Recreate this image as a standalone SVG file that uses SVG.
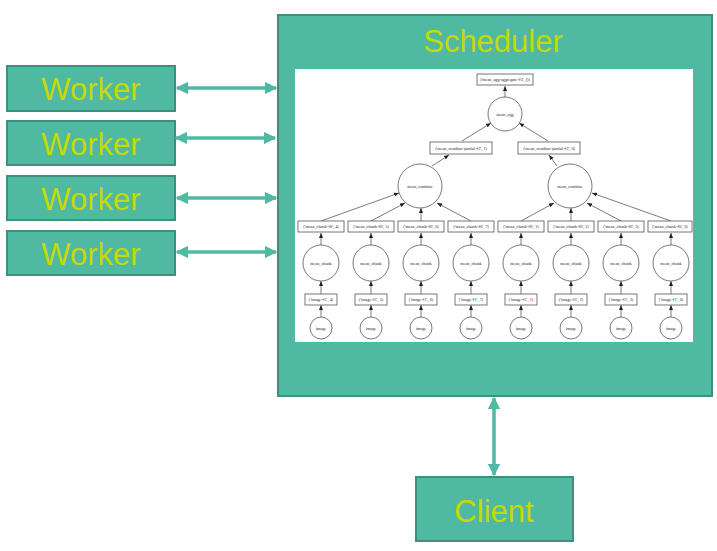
<svg xmlns="http://www.w3.org/2000/svg" width="717" height="551" viewBox="0 0 717 551">
<defs>
<style>
.box{fill:#50B9A2;stroke:#3F8F7D;stroke-width:2}
.big{font-family:"Liberation Sans",Arial,sans-serif;font-size:31px;fill:#C4DA00;text-anchor:middle}
.conn{stroke:#50B9A2;stroke-width:3.5;fill:none}
.g{fill:#fff;stroke:#555;stroke-width:0.8}
.gl{stroke:#444;stroke-width:0.7;fill:none}
.t{font-family:"Liberation Serif","Times New Roman",serif;font-size:4.2px;fill:#222;text-anchor:middle}
</style>
<marker id="ah" viewBox="0 0 10 10" refX="9" refY="5" markerWidth="3.6" markerHeight="3.6" orient="auto-start-reverse" markerUnits="strokeWidth">
<path d="M0,0 L10,5 L0,10 z" fill="#50B9A2"/>
</marker>
<marker id="sa" viewBox="0 0 10 10" refX="10" refY="5" markerWidth="5" markerHeight="5" orient="auto" markerUnits="userSpaceOnUse">
<path d="M0,1 L10,5 L0,9 z" fill="#222"/>
</marker>
</defs>

<g id="scheduler">
<rect class="box" x="278" y="15" width="434" height="381"/>
<text class="big" x="493" y="52">Scheduler</text>
<rect x="295" y="69" width="398" height="273" fill="#fff"/>
</g>

<g id="worker1"><rect class="box" x="7" y="66" width="168" height="45"/><text class="big" x="91" y="100">Worker</text></g>
<g id="worker2"><rect class="box" x="7" y="121" width="168" height="44"/><text class="big" x="91" y="155">Worker</text></g>
<g id="worker3"><rect class="box" x="7" y="176" width="168" height="44"/><text class="big" x="91" y="210">Worker</text></g>
<g id="worker4"><rect class="box" x="7" y="231" width="168" height="44"/><text class="big" x="91" y="265">Worker</text></g>
<g id="client"><rect class="box" x="416" y="477" width="157" height="64"/><text class="big" x="494" y="522">Client</text></g>

<g id="connectors">
<line class="conn" x1="177" y1="88" x2="276" y2="88" marker-start="url(#ah)" marker-end="url(#ah)"/>
<line class="conn" x1="176" y1="138" x2="275" y2="138" marker-start="url(#ah)" marker-end="url(#ah)"/>
<line class="conn" x1="177" y1="198" x2="276" y2="198" marker-start="url(#ah)" marker-end="url(#ah)"/>
<line class="conn" x1="177" y1="252" x2="276" y2="252" marker-start="url(#ah)" marker-end="url(#ah)"/>
<line class="conn" x1="494" y1="398" x2="494" y2="475" marker-start="url(#ah)" marker-end="url(#ah)"/>
</g>

<g id="graph-edges">
<line class="gl" x1="505" y1="97" x2="505" y2="86" marker-end="url(#sa)"/>
<line class="gl" x1="462" y1="141" x2="491" y2="123" marker-end="url(#sa)"/>
<line class="gl" x1="548" y1="141" x2="519" y2="123" marker-end="url(#sa)"/>
<line class="gl" x1="432" y1="166" x2="449" y2="155" marker-end="url(#sa)"/>
<line class="gl" x1="557" y1="166" x2="549" y2="155" marker-end="url(#sa)"/>
<line class="gl" x1="321" y1="221" x2="399" y2="193" marker-end="url(#sa)"/>
<line class="gl" x1="371" y1="221" x2="405" y2="203" marker-end="url(#sa)"/>
<line class="gl" x1="421" y1="221" x2="421" y2="208" marker-end="url(#sa)"/>
<line class="gl" x1="471" y1="221" x2="437" y2="203" marker-end="url(#sa)"/>
<line class="gl" x1="521" y1="221" x2="554" y2="203" marker-end="url(#sa)"/>
<line class="gl" x1="571" y1="221" x2="571" y2="208" marker-end="url(#sa)"/>
<line class="gl" x1="621" y1="221" x2="587" y2="203" marker-end="url(#sa)"/>
<line class="gl" x1="671" y1="221" x2="592" y2="193" marker-end="url(#sa)"/>
<line class="gl" x1="321" y1="245" x2="321" y2="233" marker-end="url(#sa)"/>
<line class="gl" x1="371" y1="245" x2="371" y2="233" marker-end="url(#sa)"/>
<line class="gl" x1="421" y1="245" x2="421" y2="233" marker-end="url(#sa)"/>
<line class="gl" x1="471" y1="245" x2="471" y2="233" marker-end="url(#sa)"/>
<line class="gl" x1="521" y1="245" x2="521" y2="233" marker-end="url(#sa)"/>
<line class="gl" x1="571" y1="245" x2="571" y2="233" marker-end="url(#sa)"/>
<line class="gl" x1="621" y1="245" x2="621" y2="233" marker-end="url(#sa)"/>
<line class="gl" x1="671" y1="245" x2="671" y2="233" marker-end="url(#sa)"/>
<line class="gl" x1="321" y1="294" x2="321" y2="281" marker-end="url(#sa)"/>
<line class="gl" x1="371" y1="294" x2="371" y2="281" marker-end="url(#sa)"/>
<line class="gl" x1="421" y1="294" x2="421" y2="281" marker-end="url(#sa)"/>
<line class="gl" x1="471" y1="294" x2="471" y2="281" marker-end="url(#sa)"/>
<line class="gl" x1="521" y1="294" x2="521" y2="281" marker-end="url(#sa)"/>
<line class="gl" x1="571" y1="294" x2="571" y2="281" marker-end="url(#sa)"/>
<line class="gl" x1="621" y1="294" x2="621" y2="281" marker-end="url(#sa)"/>
<line class="gl" x1="671" y1="294" x2="671" y2="281" marker-end="url(#sa)"/>
<line class="gl" x1="321" y1="317" x2="321" y2="305" marker-end="url(#sa)"/>
<line class="gl" x1="371" y1="317" x2="371" y2="305" marker-end="url(#sa)"/>
<line class="gl" x1="421" y1="317" x2="421" y2="305" marker-end="url(#sa)"/>
<line class="gl" x1="471" y1="317" x2="471" y2="305" marker-end="url(#sa)"/>
<line class="gl" x1="521" y1="317" x2="521" y2="305" marker-end="url(#sa)"/>
<line class="gl" x1="571" y1="317" x2="571" y2="305" marker-end="url(#sa)"/>
<line class="gl" x1="621" y1="317" x2="621" y2="305" marker-end="url(#sa)"/>
<line class="gl" x1="671" y1="317" x2="671" y2="305" marker-end="url(#sa)"/>
</g>

<g id="graph-nodes">
<g id="agg-key"><rect class="g" x="477" y="74" width="56" height="11"/><text class="t" x="505" y="81">('mean_agg-aggregate-#3', ())</text></g>
<g id="mean-agg"><circle class="g" cx="505" cy="114" r="17"/><text class="t" x="505" y="115.5">mean_agg</text></g>
<g id="comb-key-1"><rect class="g" x="430" y="142" width="62" height="12"/><text class="t" x="461" y="149.5">('mean_combine-partial-#2', 1)</text></g>
<g id="comb-key-0"><rect class="g" x="518" y="142" width="62" height="12"/><text class="t" x="549" y="149.5">('mean_combine-partial-#2', 0)</text></g>
<g id="mean-combine-1"><circle class="g" cx="420" cy="186" r="22"/><text class="t" x="420" y="187.5">mean_combine</text></g>
<g id="mean-combine-0"><circle class="g" cx="570" cy="186" r="22"/><text class="t" x="570" y="187.5">mean_combine</text></g>

<g id="chunk-key-4"><rect class="g" x="298" y="221" width="46" height="11"/><text class="t" x="321" y="228">('mean_chunk-#0', 4)</text></g>
<g id="chunk-key-5"><rect class="g" x="348" y="221" width="46" height="11"/><text class="t" x="371" y="228">('mean_chunk-#0', 5)</text></g>
<g id="chunk-key-6"><rect class="g" x="398" y="221" width="46" height="11"/><text class="t" x="421" y="228">('mean_chunk-#0', 6)</text></g>
<g id="chunk-key-7"><rect class="g" x="448" y="221" width="46" height="11"/><text class="t" x="471" y="228">('mean_chunk-#0', 7)</text></g>
<g id="chunk-key-1"><rect class="g" x="498" y="221" width="46" height="11"/><text class="t" x="521" y="228">('mean_chunk-#0', 1)</text></g>
<g id="chunk-key-2"><rect class="g" x="548" y="221" width="46" height="11"/><text class="t" x="571" y="228">('mean_chunk-#0', 2)</text></g>
<g id="chunk-key-3"><rect class="g" x="598" y="221" width="46" height="11"/><text class="t" x="621" y="228">('mean_chunk-#0', 3)</text></g>
<g id="chunk-key-0"><rect class="g" x="648" y="221" width="44" height="11"/><text class="t" x="670" y="228">('mean_chunk-#0', 0)</text></g>

<g id="mean-chunk-4"><circle class="g" cx="321" cy="263" r="18"/><text class="t" x="321" y="264.5">mean_chunk</text></g>
<g id="mean-chunk-5"><circle class="g" cx="371" cy="263" r="18"/><text class="t" x="371" y="264.5">mean_chunk</text></g>
<g id="mean-chunk-6"><circle class="g" cx="421" cy="263" r="18"/><text class="t" x="421" y="264.5">mean_chunk</text></g>
<g id="mean-chunk-7"><circle class="g" cx="471" cy="263" r="18"/><text class="t" x="471" y="264.5">mean_chunk</text></g>
<g id="mean-chunk-1"><circle class="g" cx="521" cy="263" r="18"/><text class="t" x="521" y="264.5">mean_chunk</text></g>
<g id="mean-chunk-2"><circle class="g" cx="571" cy="263" r="18"/><text class="t" x="571" y="264.5">mean_chunk</text></g>
<g id="mean-chunk-3"><circle class="g" cx="621" cy="263" r="18"/><text class="t" x="621" y="264.5">mean_chunk</text></g>
<g id="mean-chunk-0"><circle class="g" cx="671" cy="263" r="18"/><text class="t" x="671" y="264.5">mean_chunk</text></g>

<g id="image-key-4"><rect class="g" x="305" y="294" width="32" height="11"/><text class="t" x="321" y="301">('image-#1', 4)</text></g>
<g id="image-key-5"><rect class="g" x="355" y="294" width="32" height="11"/><text class="t" x="371" y="301">('image-#1', 5)</text></g>
<g id="image-key-6"><rect class="g" x="405" y="294" width="32" height="11"/><text class="t" x="421" y="301">('image-#1', 6)</text></g>
<g id="image-key-7"><rect class="g" x="455" y="294" width="32" height="11"/><text class="t" x="471" y="301">('image-#1', 7)</text></g>
<g id="image-key-1"><rect class="g" x="505" y="294" width="32" height="11"/><text class="t" x="521" y="301">('image-#1', 1)</text></g>
<g id="image-key-2"><rect class="g" x="555" y="294" width="32" height="11"/><text class="t" x="571" y="301">('image-#1', 2)</text></g>
<g id="image-key-3"><rect class="g" x="605" y="294" width="32" height="11"/><text class="t" x="621" y="301">('image-#1', 3)</text></g>
<g id="image-key-0"><rect class="g" x="655" y="294" width="32" height="11"/><text class="t" x="671" y="301">('image-#1', 0)</text></g>

<g id="image-4"><circle class="g" cx="321" cy="328" r="11"/><text class="t" x="321" y="329.5">image</text></g>
<g id="image-5"><circle class="g" cx="371" cy="328" r="11"/><text class="t" x="371" y="329.5">image</text></g>
<g id="image-6"><circle class="g" cx="421" cy="328" r="11"/><text class="t" x="421" y="329.5">image</text></g>
<g id="image-7"><circle class="g" cx="471" cy="328" r="11"/><text class="t" x="471" y="329.5">image</text></g>
<g id="image-1"><circle class="g" cx="521" cy="328" r="11"/><text class="t" x="521" y="329.5">image</text></g>
<g id="image-2"><circle class="g" cx="571" cy="328" r="11"/><text class="t" x="571" y="329.5">image</text></g>
<g id="image-3"><circle class="g" cx="621" cy="328" r="11"/><text class="t" x="621" y="329.5">image</text></g>
<g id="image-0"><circle class="g" cx="671" cy="328" r="11"/><text class="t" x="671" y="329.5">image</text></g>
</g>
</svg>
